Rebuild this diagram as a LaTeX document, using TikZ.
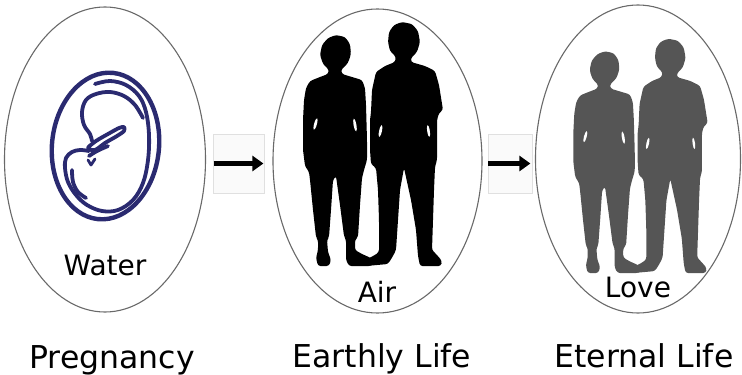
\documentclass[tikz,border=0pt]{standalone}
\usepackage{fontspec}
\setmainfont{DejaVu Sans}
\usetikzlibrary{arrows.meta,shapes.geometric}
\definecolor{navy}{RGB}{42,42,112}
\definecolor{ghost}{RGB}{85,85,85}
\definecolor{rim}{RGB}{105,105,105}
\begin{document}
\begin{tikzpicture}[x=1pt,y=-1pt,
  stage/.style={draw=rim, line width=1.1pt, ellipse, inner sep=0pt},
  hopbox/.style={draw=black!12, fill=black!2, inner sep=0pt, line width=0.8pt},
  hop/.style={line width=4.5pt, -{Triangle[length=11pt,width=15pt]}},
  element/.style={font=\fontsize{28}{34}\selectfont, anchor=base},
  phase/.style={font=\fontsize{31.5}{38}\selectfont, anchor=base},
  fetus/.style={draw=navy, line width=3.8pt, line cap=round, line join=round},
  couple/.pic={
    \begin{scope}[shift={(-373.5,-266)}]
      % woman
      \fill[rounded corners=2.5pt] (336,35) -- (345,37) -- (350,44) -- (351,54) -- (348,63) -- (341,70) -- (342,74)
        -- (352,77) -- (362,80) -- (365,88) -- (366,105) -- (367,140) -- (367,160) -- (364,170) -- (362,178)
        -- (360,205) -- (358,237) -- (355,240) -- (355,250) -- (362,254) -- (371,258) -- (374,263) -- (371,266)
        -- (349,266) -- (346,260) -- (346,240) -- (344,236) -- (340,205) -- (336,176) -- (333,180) -- (331,210)
        -- (329,237) -- (327,240) -- (328,252) -- (331,260) -- (329,266) -- (318,266) -- (316,258) -- (318,250)
        -- (318,240) -- (316,237) -- (313,210) -- (310,180) -- (309,172) -- (305,166) -- (303,150) -- (303,120)
        -- (304,100) -- (306,88) -- (310,81) -- (320,77) -- (328,74) -- (329,70) -- (323,64) -- (320,55)
        -- (322,45) -- (328,38) -- cycle;
      % man
      \fill[rounded corners=2.5pt] (402,22) -- (412,24) -- (418,31) -- (420,42) -- (417,52) -- (411,58) -- (411,62)
        -- (425,66) -- (435,71) -- (439,85) -- (443,110) -- (439,113) -- (437,120) -- (437,160) -- (435,167)
        -- (434,190) -- (433,220) -- (432,250) -- (437,255) -- (442,261) -- (441,266) -- (420,266) -- (418,256)
        -- (416,230) -- (411,200) -- (404,168) -- (400,190) -- (398,220) -- (396,250) -- (393,256) -- (388,264)
        -- (366,266) -- (367,259) -- (375,255) -- (379,252) -- (379,220) -- (378,190) -- (376,168) -- (371,164)
        -- (370,150) -- (370,120) -- (371,112) -- (372,90) -- (376,72) -- (385,66) -- (395,62) -- (396,57)
        -- (390,51) -- (388,42) -- (389,32) -- (394,25) -- cycle;
      % light showing between arms and bodies
      \fill[white, rotate around={-15:(315.5,124)}] (315.5,124) ellipse [x radius=1.4, y radius=6];
      \fill[white, rotate around={10:(355,125)}] (355,125) ellipse [x radius=1.4, y radius=6.5];
      \fill[white, rotate around={-12:(380.5,131)}] (380.5,131) ellipse [x radius=1.4, y radius=6];
      \fill[white, rotate around={8:(428.5,131)}] (428.5,131) ellipse [x radius=1.3, y radius=6];
    \end{scope}
  }
]
\useasboundingbox (0,0) rectangle (742,375);

% the three stages
\node[stage, minimum width=201pt, minimum height=305pt] (e1) at (105,159.5) {};
\node[stage, minimum width=209pt, minimum height=304pt] (e2) at (377.5,161) {};
\node[stage, minimum width=205pt, minimum height=308pt] (e3) at (638,159) {};

% passages between stages
\node[hopbox, minimum width=51pt, minimum height=59pt] (h1) at (238.5,163.5) {};
\node[hopbox, minimum width=44pt, minimum height=59pt] (h2) at (510,163.5) {};
\draw[hop, shorten <=1pt, shorten >=1pt] (h1.west) -- (h1.east);
\draw[hop, shorten <=0.5pt, shorten >=2pt] (h2.west) -- (h2.east);

% child in the womb
\draw[fetus, line width=4.4pt, rotate around={-6:(105.5,146)}] (105.5,146) ellipse [x radius=53.5, y radius=73.5];
\draw[fetus] plot[smooth, tension=0.6] coordinates {(95,84) (110,81) (126,85) (139,96) (146,112) (149,135)
  (148,160) (143,183) (133,200) (118,210) (102,211) (87,205) (76,195) (68,182) (65,168) (66,158) (72,152) (80,150) (89,151)};
\draw[fetus] plot[smooth, tension=0.6] coordinates {(92,141) (90,134) (84,125) (82,112) (86,100) (96,94) (110,92)
  (124,96) (135,105) (143,118)};
\draw[fetus] plot[smooth cycle, tension=0.5] coordinates {(88,148) (96,141) (108,134) (119,128) (124,127) (124,131)
  (117,136) (105,143) (95,150)};
\draw[fetus] plot[smooth, tension=0.6] coordinates {(89,156) (97,151) (108,146)};
\draw[fetus, line width=2.8pt] (88,160) -- (91,165) -- (95,159);
\draw[fetus] plot[smooth, tension=0.6] coordinates {(72,170) (73,182) (78,192) (86,198)};

% couples on earth and beyond
\pic[black] at (373.5,266) {couple};
\pic[ghost, scale=0.96] at (641,273) {couple};

% element names
\node[element] (w) at (105,275) {Water};
\node[element] (a) at (377,302) {Air};
\node[element] (l) at (638,297) {Love};

% stage names
\node[phase] (p1) at (112,368) {Pregnancy};
\node[phase] (p2) at (382,367) {Earthly Life};
\node[phase] (p3) at (644,367) {Eternal Life};
\end{tikzpicture}
\end{document}
